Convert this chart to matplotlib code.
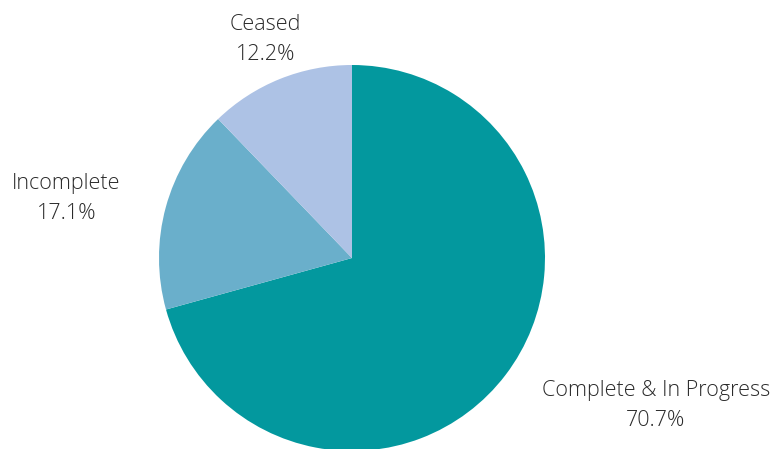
import matplotlib.pyplot as plt

labels = ["Complete & In Progress", "Incomplete", "Ceased"]
values = [70.7, 17.1, 12.2]
colors = ["#03989e", "#6aafcb", "#adc2e5"]

# label anchor points (data units, pie radius = 1)
label_pos = [(1.575, -0.763), (-1.48, 0.31), (-0.45, 1.134)]

plt.rcParams['font.family'] = ['Open Sans', 'DejaVu Sans']

fig = plt.figure(figsize=(7.74, 4.49), dpi=100)
cx, cy, r = 352, 258, 193
ax = fig.add_axes([(cx - r) / 774, (449 - cy - r) / 449, 2 * r / 774, 2 * r / 449])

ax.pie(values, colors=colors, startangle=90, counterclock=False,
       wedgeprops=dict(linewidth=0))
ax.set_xlim(-1, 1)
ax.set_ylim(-1, 1)
ax.set_aspect('equal')

for lab, v, (x, y) in zip(labels, values, label_pos):
    ax.text(x, y, "{0}\n{1:.1f}%".format(lab, v), ha='center', va='center',
            fontsize=15.5, fontweight='light', color='#2b2b2b', linespacing=1.55,
            clip_on=False)

fig.savefig("out.png", dpi=100)
